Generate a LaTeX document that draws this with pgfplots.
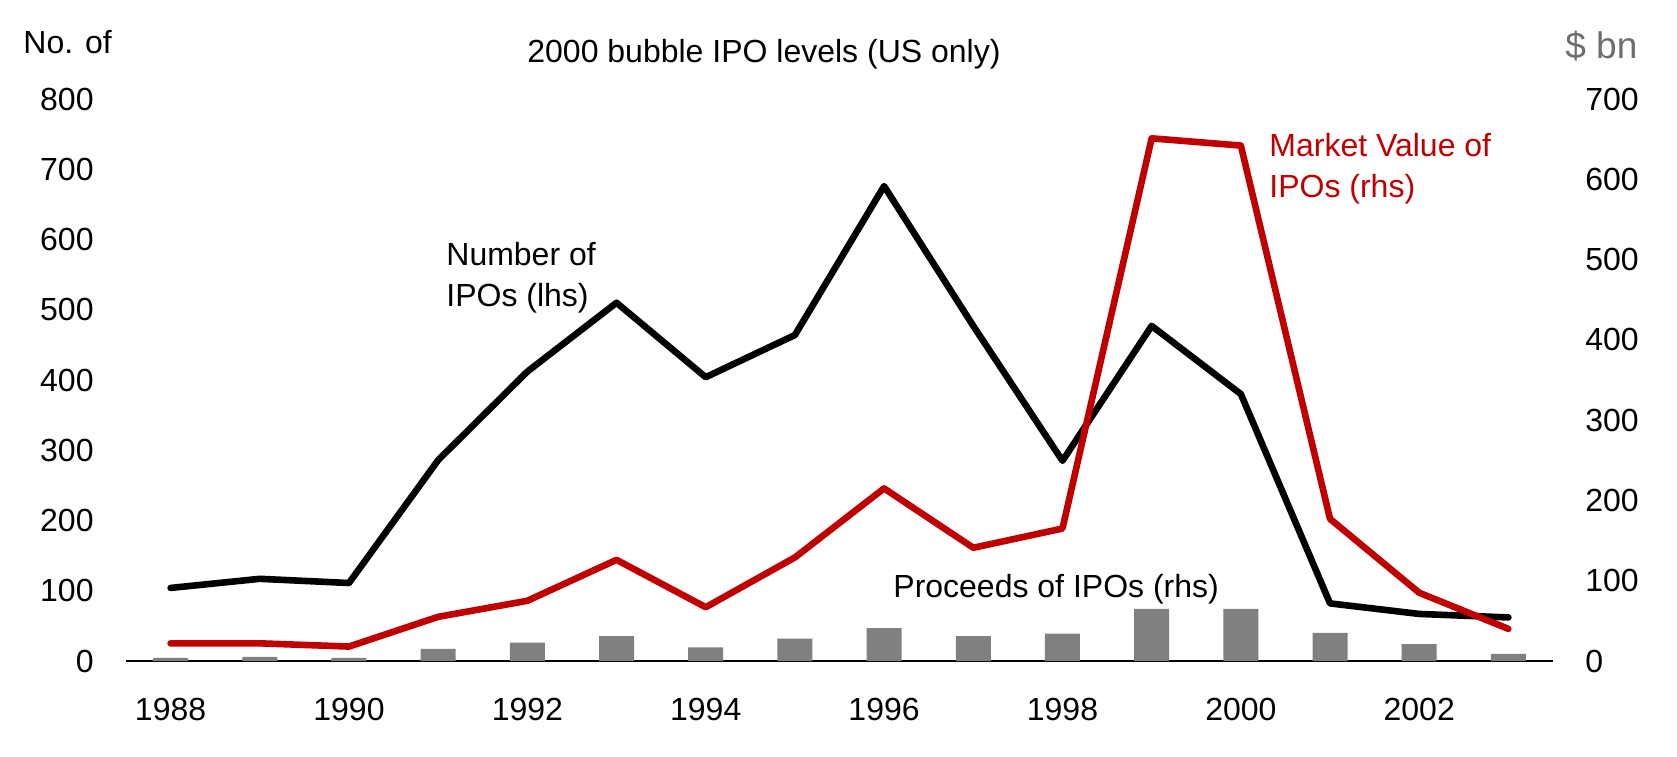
\documentclass[border=0pt]{standalone}
\usepackage{fontspec}
\setmainfont{Liberation Sans}
\usepackage{pgfplots}
\pgfplotsset{compat=1.18}
\definecolor{hsred}{HTML}{C00000}
\definecolor{bargray}{HTML}{808080}
\definecolor{unitgray}{HTML}{6E6E6E}
\begin{document}
\begin{tikzpicture}
\useasboundingbox (-63pt,-47.5pt) rectangle (775.5pt,330.5pt);
\pgfplotsset{
  common/.style={
    scale only axis, width=713.5pt, height=281pt,
    at={(0,0)}, anchor=south west,
    xmin=1987.5, xmax=2003.5,
    major tick length=0pt,
    /pgf/number format/assume math mode=true,
    /pgf/number format/1000 sep={},
    tick label style={font=\fontsize{16}{19}\selectfont, inner sep=0pt},
  }
}
\begin{axis}[common,
  ymin=0, ymax=800, ytick={0,100,...,800},
  xtick={1988,1990,...,2002},
  axis x line*=bottom, axis y line*=left,
  y axis line style={draw=none},
  x axis line style={line width=1pt, -},
  xticklabel style={anchor=base, yshift=-29.5pt},
  yticklabel style={anchor=east, xshift=-16pt},
]
\addplot[black, line width=3.3pt, line cap=round, line join=round] coordinates {
(1988,104) (1989,117) (1990,111) (1991,286) (1992,412) (1993,510)
(1994,404) (1995,464) (1996,676) (1997,477) (1998,285) (1999,477)
(2000,380) (2001,82) (2002,67) (2003,62)};
\end{axis}
\begin{axis}[common,
  ymin=0, ymax=700, ytick={0,100,...,700},
  axis x line=none, axis y line*=right,
  y axis line style={draw=none},
  yticklabel style={anchor=west, xshift=16pt},
]
\addplot[ybar, bar width=17.5pt, fill=bargray, draw=none] coordinates {
(1988,4) (1989,5) (1990,4) (1991,15) (1992,23) (1993,31) (1994,17)
(1995,28) (1996,41) (1997,31) (1998,34) (1999,65) (2000,65) (2001,35)
(2002,21) (2003,9)};
\addplot[hsred, line width=3.3pt, line cap=round, line join=round] coordinates {
(1988,22) (1989,22) (1990,18) (1991,55) (1992,75) (1993,126)
(1994,67) (1995,129) (1996,215) (1997,141) (1998,165) (1999,651)
(2000,642) (2001,177) (2002,85) (2003,40)};
\end{axis}
\begin{scope}[every node/.style={inner sep=0pt, font=\fontsize{16}{19}\selectfont}]
\node[anchor=base west] at (200.5pt,299pt) {2000 bubble IPO levels (US only)};
\node[anchor=base west] at (-51.5pt,303.5pt) {No. of};
\node[anchor=base west, text=unitgray, font=\fontsize{18.5}{22}\selectfont] at (719.5pt,301pt) {\$ bn};
\node[anchor=base west] at (160pt,197.5pt) {Number of};
\node[anchor=base west] at (160pt,177pt) {IPOs (lhs)};
\node[anchor=base west, text=hsred] at (571.5pt,252pt) {Market Value of};
\node[anchor=base west, text=hsred] at (571.5pt,231.5pt) {IPOs (rhs)};
\node[anchor=base west] at (383.5pt,32pt) {Proceeds of IPOs (rhs)};
\end{scope}
\end{tikzpicture}
\end{document}
